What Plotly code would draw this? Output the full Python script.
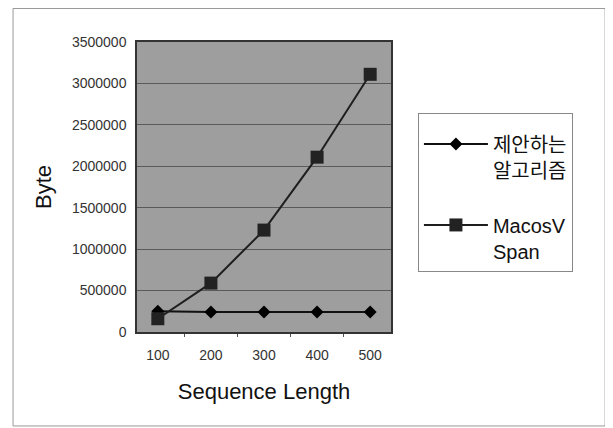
import plotly.graph_objects as go

categories = ["100", "200", "300", "400", "500"]
proposed = [250000, 240000, 240000, 240000, 240000]
macos = [160000, 590000, 1230000, 2110000, 3110000]
y_ticks = [0, 500000, 1000000, 1500000, 2000000, 2500000, 3000000, 3500000]
name_proposed = "제안하는<br>알고리즘"
name_macos = "MacosV<br>Span"

LATIN = "Liberation Sans, Arial, Noto Sans CJK KR"

fig = go.Figure()
fig.add_trace(go.Scatter(
    x=categories, y=proposed, name=name_proposed, mode="lines+markers",
    legendgroup="a",
    line=dict(color="#111111", width=2),
    marker=dict(symbol="diamond", size=10, color="#000000"),
))
fig.add_trace(go.Scatter(
    x=categories, y=macos, name=name_macos, mode="lines+markers",
    legendgroup="b",
    line=dict(color="#1e1e1e", width=2),
    marker=dict(symbol="square", size=13, color="#222222"),
))

fig.update_layout(
    width=605, height=420,
    margin=dict(l=129, r=222, t=34, b=96),
    paper_bgcolor="white",
    plot_bgcolor="#9e9e9e",
    font=dict(family=LATIN, color="#222222"),
    showlegend=True,
    legend=dict(
        x=1.106, y=0.755, xanchor="left", yanchor="top",
        bgcolor="white", bordercolor="#888888", borderwidth=1,
        font=dict(size=20, family="Liberation Sans, Noto Sans CJK KR", color="#111111"),
        traceorder="grouped", tracegroupgap=26, valign="top",
        itemwidth=64,
        title=dict(text=" ", font=dict(size=8)),
    ),
    xaxis=dict(
        type="category", categoryorder="array", categoryarray=categories,
        showline=True, mirror=True, linecolor="#333333", linewidth=1.5,
        showgrid=False, ticks="outside", tickson="boundaries", ticklen=3,
        tickcolor="#555555",
        tickfont=dict(size=14, color="#333333"),
        ticklabelstandoff=9,
        title=dict(text="Sequence Length", font=dict(size=22, color="#111111"), standoff=22),
    ),
    yaxis=dict(
        range=[0, 3500000], tickvals=y_ticks, tickformat="d",
        showline=True, mirror=True, linecolor="#333333", linewidth=1.5,
        showgrid=True, gridcolor="#5a5a5a", gridwidth=1,
        zeroline=False,
        tickfont=dict(size=14, color="#333333"),
        ticks="", ticklabelstandoff=6,
        title=dict(text="Byte", font=dict(size=22, color="#111111"), standoff=14),
    ),
    shapes=[dict(
        type="rect", xref="paper", yref="paper",
        x0=-0.488, x1=1.843, y0=-0.324, y1=1.1155,
        line=dict(color="#999999", width=1), fillcolor="rgba(0,0,0,0)",
        layer="below",
    )],
)

fig.write_html("out.html")
